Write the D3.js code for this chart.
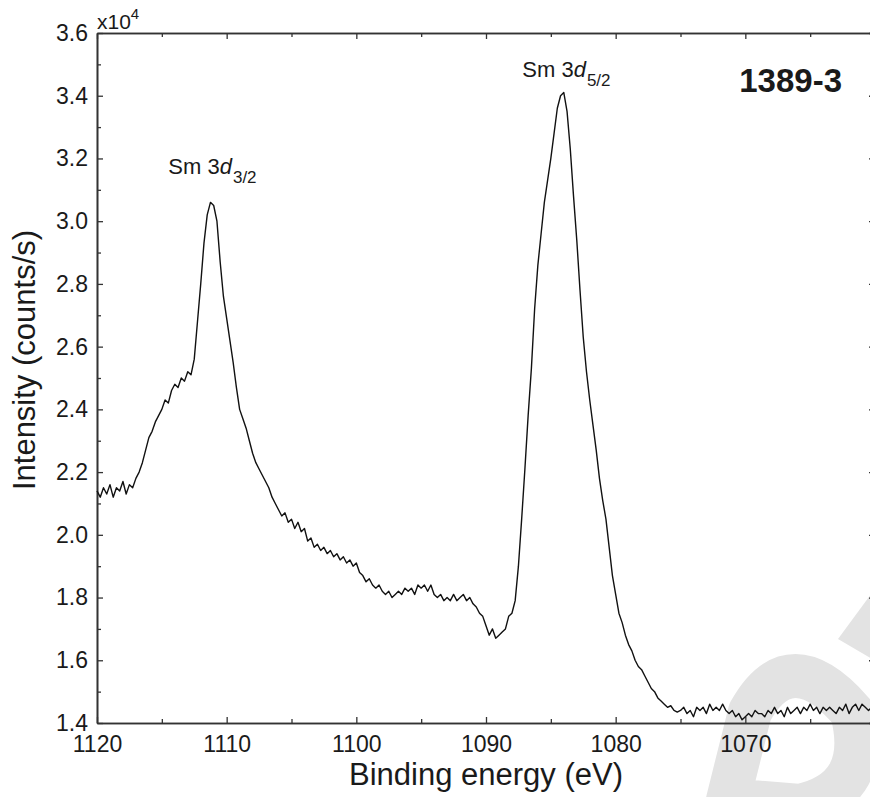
<!DOCTYPE html>
<html>
<head>
<meta charset="utf-8">
<script src="https://cdn.jsdelivr.net/npm/d3@7"></script>
<style>
  body { margin: 0; background: #fff; }
  text { font-family: "Liberation Sans", Arial, Helvetica, sans-serif; fill: #1a1a1a; }
</style>
</head>
<body>
<div id="chart"></div>
<script>
// binding energy grid (eV), sampled every 0.25 eV from 1120 down to 1060
var energyStart = 1120, energyStep = -0.25;

// intensity, in units of 10^4 counts/s (one row = 1 eV)
var intensity = [
  2.14, 2.12, 2.15, 2.13,   // 1120
  2.16, 2.12, 2.15, 2.14,   // 1119
  2.17, 2.13, 2.16, 2.15,   // 1118
  2.18, 2.20, 2.23, 2.27,   // 1117
  2.31, 2.33, 2.36, 2.38,   // 1116
  2.40, 2.43, 2.42, 2.46,   // 1115
  2.48, 2.47, 2.50, 2.49,   // 1114
  2.52, 2.51, 2.56, 2.68,   // 1113
  2.80, 2.93, 3.02, 3.06,   // 1112
  3.05, 3.00, 2.87, 2.76,   // 1111
  2.69, 2.62, 2.55, 2.47,   // 1110
  2.40, 2.37, 2.34, 2.30,   // 1109
  2.26, 2.23, 2.21, 2.19,   // 1108
  2.17, 2.15, 2.12, 2.10,   // 1107
  2.08, 2.06, 2.07, 2.04,   // 1106
  2.05, 2.02, 2.04, 2.01,   // 1105
  2.02, 1.98, 1.99, 1.96,   // 1104
  1.97, 1.95, 1.96, 1.94,   // 1103
  1.95, 1.93, 1.94, 1.92,   // 1102
  1.93, 1.91, 1.92, 1.90,   // 1101
  1.91, 1.88, 1.87, 1.85,   // 1100
  1.86, 1.84, 1.83, 1.84,   // 1099
  1.82, 1.81, 1.82, 1.80,   // 1098
  1.81, 1.82, 1.81, 1.83,   // 1097
  1.82, 1.83, 1.81, 1.84,   // 1096
  1.83, 1.84, 1.82, 1.84,   // 1095
  1.81, 1.80, 1.81, 1.79,   // 1094
  1.80, 1.79, 1.81, 1.79,   // 1093
  1.80, 1.81, 1.79, 1.80,   // 1092
  1.78, 1.77, 1.75, 1.74,   // 1091
  1.71, 1.68, 1.70, 1.67,   // 1090
  1.68, 1.69, 1.70, 1.74,   // 1089
  1.75, 1.79, 1.90, 2.05,   // 1088
  2.21, 2.38, 2.53, 2.72,   // 1087
  2.86, 2.96, 3.06, 3.13,   // 1086
  3.20, 3.28, 3.36, 3.40,   // 1085
  3.41, 3.35, 3.23, 3.08,   // 1084
  2.94, 2.78, 2.63, 2.52,   // 1083
  2.43, 2.35, 2.27, 2.18,   // 1082
  2.11, 2.05, 1.96, 1.87,   // 1081
  1.81, 1.75, 1.72, 1.68,   // 1080
  1.65, 1.63, 1.60, 1.58,   // 1079
  1.57, 1.55, 1.53, 1.51,   // 1078
  1.50, 1.48, 1.47, 1.46,   // 1077
  1.45, 1.455, 1.44, 1.435, // 1076
  1.44, 1.45, 1.43, 1.44,   // 1075
  1.42, 1.45, 1.44, 1.45,   // 1074
  1.43, 1.46, 1.44, 1.45,   // 1073
  1.44, 1.46, 1.44, 1.43,   // 1072
  1.44, 1.42, 1.43, 1.41,   // 1071
  1.42, 1.43, 1.42, 1.44,   // 1070
  1.43, 1.43, 1.42, 1.44,   // 1069
  1.43, 1.45, 1.43, 1.44,   // 1068
  1.42, 1.45, 1.43, 1.44,   // 1067
  1.45, 1.43, 1.45, 1.44,   // 1066
  1.46, 1.44, 1.45, 1.43,   // 1065
  1.45, 1.44, 1.45, 1.44,   // 1064
  1.43, 1.45, 1.44, 1.46,   // 1063
  1.43, 1.45, 1.46, 1.44,   // 1062
  1.46, 1.45, 1.44, 1.45,   // 1061
  1.44                      // 1060
];

var xTicks = [1120, 1110, 1100, 1090, 1080, 1070];
var xMinorTicks = [1115, 1105, 1095, 1085, 1075, 1065];
var yTicks = [1.4, 1.6, 1.8, 2.0, 2.2, 2.4, 2.6, 2.8, 3.0, 3.2, 3.4, 3.6];
var yMinorTicks = [1.5, 1.7, 1.9, 2.1, 2.3, 2.5, 2.7, 2.9, 3.1, 3.3, 3.5];

// peak labels, placed in data coordinates
var peakLabels = [
  { eV: 1114.5, val: 3.15, sub: "3/2" },
  { eV: 1087.2, val: 3.46, sub: "5/2" }
];

var width = 870, height = 797;
var margin = { top: 33, right: -5, bottom: 74, left: 97 };

var svg = d3.select("#chart")
  .append("svg")
  .attr("width", width)
  .attr("height", height);

var x = d3.scaleLinear()
  .domain([1120, 1060])
  .range([margin.left, width - margin.right]);

var y = d3.scaleLinear()
  .domain([1.4, 3.6])
  .range([height - margin.bottom, margin.top]);

var data = intensity.map(function (v, i) {
  return { eV: energyStart + i * energyStep, val: v };
});

// grey watermark in the lower right corner
svg.append("path")
  .attr("d", "M 800 806 L 728 800 L 750 712 Q 790 640 852 712 Q 872 790 800 806 Z")
  .attr("fill", "none")
  .attr("stroke", "#e3e3e3")
  .attr("stroke-width", 44)
  .attr("stroke-linejoin", "round");
svg.append("path")
  .attr("d", "M 838 639 L 874 590 L 874 660 Z")
  .attr("fill", "#e3e3e3");

// axes, ticks pointing inward
var axisColor = "#333";

function styleAxis(g) {
  g.selectAll("path.domain").attr("stroke", axisColor).attr("stroke-width", 1.6);
  g.selectAll(".tick line").attr("stroke", axisColor).attr("stroke-width", 1.3);
  g.selectAll(".tick text").style("font-size", "23px").attr("fill", "#1a1a1a");
}

var yBase = height - margin.bottom;

// bottom
svg.append("g")
  .attr("transform", "translate(0," + yBase + ")")
  .call(d3.axisBottom(x).tickValues(xMinorTicks).tickSizeInner(-4).tickSizeOuter(0).tickFormat(""))
  .call(styleAxis);
svg.append("g")
  .attr("transform", "translate(0," + yBase + ")")
  .call(d3.axisBottom(x).tickValues(xTicks).tickSizeInner(-6).tickSizeOuter(0).tickPadding(13).tickFormat(d3.format("d")))
  .call(styleAxis);

// top
svg.append("g")
  .attr("transform", "translate(0," + margin.top + ")")
  .call(d3.axisTop(x).tickValues(xMinorTicks).tickSizeInner(-4).tickSizeOuter(0).tickFormat(""))
  .call(styleAxis);
svg.append("g")
  .attr("transform", "translate(0," + margin.top + ")")
  .call(d3.axisTop(x).tickValues(xTicks).tickSizeInner(-6).tickSizeOuter(0).tickFormat(""))
  .call(styleAxis);

// left
svg.append("g")
  .attr("transform", "translate(" + margin.left + ",0)")
  .call(d3.axisLeft(y).tickValues(yMinorTicks).tickSizeInner(-4).tickSizeOuter(0).tickFormat(""))
  .call(styleAxis);
svg.append("g")
  .attr("transform", "translate(" + margin.left + ",0)")
  .call(d3.axisLeft(y).tickValues(yTicks).tickSizeInner(-6).tickSizeOuter(0).tickPadding(9).tickFormat(d3.format(".1f")))
  .call(styleAxis);

// right
svg.append("g")
  .attr("transform", "translate(" + (width - margin.right) + ",0)")
  .call(d3.axisRight(y).tickValues(yMinorTicks).tickSizeInner(-4).tickSizeOuter(0).tickFormat(""))
  .call(styleAxis);
svg.append("g")
  .attr("transform", "translate(" + (width - margin.right) + ",0)")
  .call(d3.axisRight(y).tickValues(yTicks).tickSizeInner(-6).tickSizeOuter(0).tickFormat(""))
  .call(styleAxis);

// the spectrum
var line = d3.line()
  .x(function (d) { return x(d.eV); })
  .y(function (d) { return y(d.val); });

svg.append("path")
  .datum(data)
  .attr("d", line)
  .attr("fill", "none")
  .attr("stroke", "#111")
  .attr("stroke-width", 1.4)
  .attr("stroke-linejoin", "round");

// exponent note
var expo = svg.append("text")
  .attr("x", margin.left)
  .attr("y", 29)
  .style("font-size", "21px");
expo.append("tspan").text("x10");
expo.append("tspan").attr("dy", -10).style("font-size", "15px").text("4");

// peak labels
peakLabels.forEach(function (p) {
  var t = svg.append("text")
    .attr("x", x(p.eV))
    .attr("y", y(p.val))
    .style("font-size", "22px");
  t.append("tspan").text("Sm 3");
  t.append("tspan").style("font-style", "italic").text("d");
  t.append("tspan").attr("dy", 9).attr("dx", 1).style("font-size", "17px").text(p.sub);
});

// sample name
svg.append("text")
  .attr("x", 842)
  .attr("y", 92)
  .attr("text-anchor", "end")
  .style("font-size", "33px")
  .style("font-weight", "bold")
  .text("1389-3");

// axis titles
svg.append("text")
  .attr("x", (margin.left + width - margin.right) / 2)
  .attr("y", 785)
  .attr("text-anchor", "middle")
  .style("font-size", "31px")
  .text("Binding energy (eV)");

svg.append("text")
  .attr("transform", "translate(35,360)rotate(-90)")
  .attr("text-anchor", "middle")
  .style("font-size", "31px")
  .text("Intensity (counts/s)");
</script>
</body>
</html>
